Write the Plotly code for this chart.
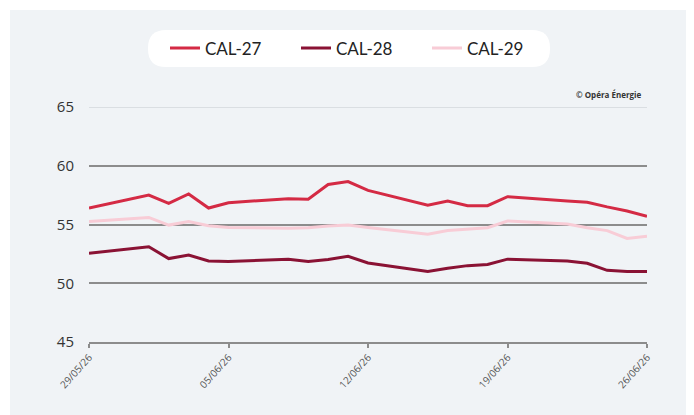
import plotly.graph_objects as go

dates = ["2026-05-29",
         "2026-06-01", "2026-06-02", "2026-06-03", "2026-06-04", "2026-06-05",
         "2026-06-08", "2026-06-09", "2026-06-10", "2026-06-11", "2026-06-12",
         "2026-06-15", "2026-06-16", "2026-06-17", "2026-06-18", "2026-06-19",
         "2026-06-22", "2026-06-23", "2026-06-24", "2026-06-25", "2026-06-26"]

cal27 = [56.4, 57.5, 56.8, 57.6, 56.4, 56.85, 57.2, 57.15, 58.4, 58.65, 57.9,
         56.65, 57.0, 56.6, 56.6, 57.37, 57.0, 56.9, 56.5, 56.15, 55.7]
cal28 = [52.55, 53.1, 52.1, 52.4, 51.9, 51.85, 52.05, 51.85, 52.03, 52.3, 51.72,
         51.0, 51.27, 51.5, 51.6, 52.05, 51.9, 51.7, 51.1, 51.0, 51.0]
cal29 = [55.25, 55.6, 54.95, 55.25, 54.9, 54.75, 54.68, 54.72, 54.87, 54.95, 54.75,
         54.17, 54.48, 54.6, 54.73, 55.3, 55.05, 54.73, 54.48, 53.82, 54.0]

series_names = ["CAL-27", "CAL-28", "CAL-29"]
series_colors = ["#d42a44", "#8a1234", "#f8ccd6"]
y_ticks = [45, 50, 55, 60, 65]

OFF = 8  # page body margin
W, H = 680, 407
L, R, T, B = 89 - OFF, W - (647 - OFF), 107 - OFF, H - (342 - OFF)
pw, ph = W - L - R, H - T - B

def px_x(p):
    return (p - OFF - L) / pw

def px_y(p):
    return (H - B - (p - OFF)) / ph

fig = go.Figure()
for name, vals, col in zip(series_names, [cal27, cal28, cal29], series_colors):
    fig.add_trace(go.Scatter(x=dates, y=vals, name=name, mode="lines",
                             line=dict(color=col, width=3)))

bg = "#f0f3f6"
shapes = []
shapes.append(dict(type="rect", xref="paper", yref="paper",
                   x0=px_x(10), x1=px_x(690), y0=px_y(420), y1=px_y(10),
                   fillcolor=bg, line=dict(width=0), layer="below"))
x0, x1 = px_x(148), px_x(550)
yt, yb = px_y(30), px_y(67)
rx, ry = 18 / pw, 18 / ph
path = (f"M {x0+rx},{yt} L {x1-rx},{yt} Q {x1},{yt} {x1},{yt-ry} "
        f"L {x1},{yb+ry} Q {x1},{yb} {x1-rx},{yb} L {x0+rx},{yb} "
        f"Q {x0},{yb} {x0},{yb+ry} L {x0},{yt-ry} Q {x0},{yt} {x0+rx},{yt} Z")
shapes.append(dict(type="path", xref="paper", yref="paper", path=path,
                   fillcolor="white", line=dict(width=0), layer="below"))
shapes.append(dict(type="line", xref="paper", yref="y", x0=0, x1=1,
                   y0=y_ticks[-1], y1=y_ticks[-1],
                   line=dict(color="#d3d7db", width=1.5), layer="between"))

fig.update_layout(
    width=W, height=H,
    margin=dict(l=L, r=R, t=T, b=B),
    paper_bgcolor="white",
    plot_bgcolor=bg,
    shapes=shapes,
    showlegend=True,
    legend=dict(orientation="h", x=px_x(165), y=px_y(48.5), xanchor="left",
                yanchor="middle", bgcolor="rgba(0,0,0,0)",
                font=dict(family="Lato", size=17, color="#222"),
                entrywidth=86, itemwidth=30),
    annotations=[dict(text="<b>© Opéra Énergie</b>", xref="paper", yref="paper",
                      x=px_x(643), y=px_y(95), xanchor="right", yanchor="middle",
                      showarrow=False,
                      font=dict(family="Open Sans", size=8, color="#333"))],
)

fig.update_xaxes(
    type="date", range=["2026-05-29", "2026-06-26"],
    tick0="2026-05-29", dtick=7 * 86400000, tickformat="%d/%m/%y",
    tickangle=-48, tickfont=dict(family="Open Sans", size=10, color="#555"),
    showgrid=False, zeroline=False,
    showline=True, linecolor="#8c8c8c", linewidth=1.5,
    ticks="outside", ticklen=4, tickcolor="#8c8c8c", tickwidth=1.5,
)
fig.update_yaxes(
    range=[45, 65], tickvals=y_ticks,
    tickfont=dict(family="Open Sans", size=15, color="#333"),
    showgrid=True, gridcolor="#8c8c8c", gridwidth=1.5,
    zeroline=False, showline=False, ticks="", ticklabelstandoff=14,
)

fig.write_html("out.html")
